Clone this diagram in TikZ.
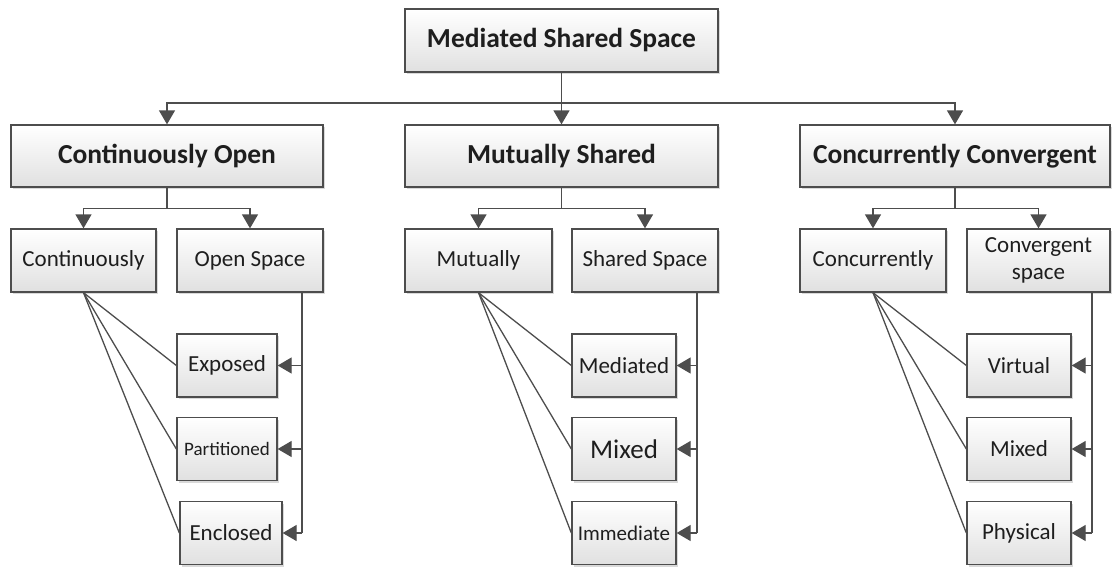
\documentclass[tikz,border=0pt]{standalone}
\usepackage{fontspec}
\setmainfont{Carlito}
\usetikzlibrary{arrows.meta,shadows}
\definecolor{edge}{HTML}{4D4D4D}
\definecolor{ink}{HTML}{1E1E1E}
\tikzset{
  box/.style={draw=edge, line width=1.3pt, top color=white, bottom color=black!12,
    drop shadow={shadow xshift=2pt, shadow yshift=-2pt, opacity=0.25, fill=black!60},
    text=ink, align=center, inner sep=0pt, minimum height=63pt},
  head/.style={box, font=\bfseries\fontsize{27.5}{30}\selectfont},
  sub/.style={box, font=\fontsize{23}{26}\selectfont},
  conn/.style={draw=edge, line width=1.3pt},
  arr/.style={conn, -{Triangle[width=16pt,length=14pt]}},
}
\begin{document}
\begin{tikzpicture}[x=1pt,y=-1pt]
\useasboundingbox (0,0) rectangle (1112,566);

% root and first level
\node[head, minimum width=313pt] (root) at (561.5,40.5) {Mediated Shared Space};
\node[head, minimum width=312pt, minimum height=62pt] (co) at (167,156) {Continuously Open};
\node[head, minimum width=313pt, minimum height=62pt] (ms) at (561.5,156) {Mutually Shared};
\node[head, minimum width=310pt, minimum height=62pt] (cc) at (955,156) {Concurrently Convergent};

% second level
\node[sub, minimum width=145pt] (cont) at (83.5,260.5) {Continuously};
\node[sub, minimum width=146pt] (open) at (250,260.5) {Open Space};
\node[sub, minimum width=147pt] (mut) at (478.5,260.5) {Mutually};
\node[sub, minimum width=146pt] (shared) at (645,260.5) {Shared Space};
\node[sub, minimum width=146pt] (conc) at (873,260.5) {Concurrently};
\node[sub, minimum width=143pt, font=\fontsize{23}{27}\selectfont] (conv) at (1038.5,260.5) {Convergent\\space};

% leaves
\node[sub, minimum width=100pt] (exposed) at (227,365.5) {Exposed};
\node[sub, minimum width=100pt, font=\fontsize{19}{22}\selectfont] (part) at (227,449) {Partitioned};
\node[sub, minimum width=102pt] (encl) at (231,533) {Enclosed};
\node[sub, minimum width=104pt] (med) at (624,365.5) {Mediated};
\node[sub, minimum width=104pt, font=\fontsize{27}{30}\selectfont] (mixa) at (624,449) {Mixed};
\node[sub, minimum width=104pt, font=\fontsize{21}{24}\selectfont] (imm) at (624,533) {Immediate};
\node[sub, minimum width=104pt] (virt) at (1019,365.5) {Virtual};
\node[sub, minimum width=104pt] (mixb) at (1019,449) {Mixed};
\node[sub, minimum width=104pt] (phys) at (1019,533) {Physical};

% root to first level
\coordinate (busA) at (561.5,103);
\draw[conn] (root.south) -- (busA);
\draw[arr] (busA) -| (co.north);
\draw[arr] (busA) -- (ms.north);
\draw[arr] (busA) -| (cc.north);

% first level to second level
\foreach \p/\l/\r in {co/cont/open, ms/mut/shared, cc/conc/conv}{
  \coordinate (\p-bus) at ([yshift=-21pt]\p.south);
  \draw[conn] (\p.south) -- (\p-bus);
  \draw[arr] (\p-bus) -| (\l.north);
  \draw[arr] (\p-bus) -| (\r.north);
}

% fan lines from the left boxes to the leaves
\foreach \s/\a/\b/\c in {cont/exposed/part/encl, mut/med/mixa/imm, conc/virt/mixb/phys}{
  \draw[conn] (\s.south) -- (\a.west);
  \draw[conn] (\s.south) -- (\b.west);
  \draw[conn] (\s.south) -- (\c.west);
}

% trunks from the right boxes to the leaves
\foreach \s/\x/\a/\b/\c in {open/302/exposed/part/encl, shared/697/med/mixa/imm, conv/1092/virt/mixb/phys}{
  \coordinate (\s-top) at (\x,292);
  \coordinate (\s-end) at (\x,533);
  \draw[conn] (\s-top) -- (\s-end);
  \draw[arr] (\s-end) -- (\c.east);
  \draw[arr] (\s-end |- \a.east) -- (\a.east);
  \draw[arr] (\s-end |- \b.east) -- (\b.east);
}
\end{tikzpicture}
\end{document}
